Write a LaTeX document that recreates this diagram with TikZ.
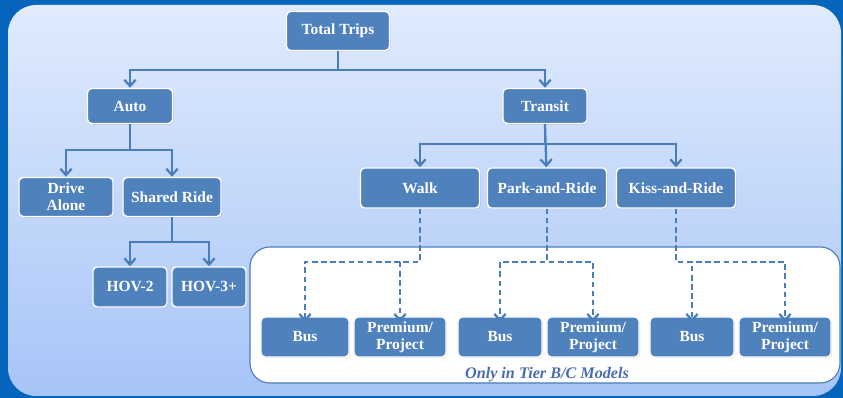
\documentclass[tikz,border=0pt]{standalone}
\usepackage{fontspec}
\setmainfont{Liberation Serif}
\usepackage{xcolor}
\usetikzlibrary{arrows.meta, shadows}

\definecolor{frameblue}{HTML}{0565BD}
\definecolor{paneltop}{HTML}{E0EBFD}
\definecolor{panelbot}{HTML}{A7C4F7}
\definecolor{boxblue}{HTML}{4F81BD}
\definecolor{lineblue}{HTML}{4A7EBB}
\definecolor{notecol}{HTML}{4A6DB0}

\tikzset{
  box/.style={draw=white, line width=1pt, fill=boxblue, rounded corners=3pt,
    text=white, font=\fontsize{11}{12}\selectfont\bfseries, align=center,
    inner sep=1pt,
    drop shadow={shadow xshift=0.8pt, shadow yshift=-0.8pt, opacity=0.25}},
  arr/.style={draw=lineblue, line width=1.6pt,
    -{Straight Barb[length=4.5pt,width=8pt]}},
  darr/.style={arr, dash pattern=on 4pt off 2.5pt},
}

\begin{document}
\begin{tikzpicture}[x=0.025cm, y=-0.025cm]
    \useasboundingbox (0,0) rectangle (843,398);
    \fill[frameblue] (0,0) rectangle (843,398);
    \shade[top color=paneltop, bottom color=panelbot, rounded corners=20]
      (8,5) rectangle (841,396);

    % white area of the optional modes
    \draw[lineblue, line width=0.8pt, fill=white, rounded corners=14]
      (250,247) rectangle (840,383);
    \node[notecol, font=\fontsize{11.5}{12}\selectfont\bfseries\itshape] (tier)
      at (547,375) {Only in Tier B/C Models};

    % upper levels
    \node[box, minimum width=2.575cm, minimum height=0.975cm] (total) at (338,31) {Total Trips};
    \node[box, minimum width=2.125cm, minimum height=0.875cm] (auto) at (130,106) {Auto};
    \node[box, minimum width=2.1cm, minimum height=0.875cm] (transit) at (545,106) {Transit};

    \node[box, minimum width=2.35cm, minimum height=0.975cm] (alone) at (66,197) {Drive\\Alone};
    \node[box, minimum width=2.45cm, minimum height=0.975cm] (shared) at (172,197) {Shared Ride};

    \node[box, minimum width=1.85cm, minimum height=1cm] (hov2) at (130,287) {HOV-2};
    \node[box, minimum width=1.85cm, minimum height=1cm] (hov3) at (209,287) {HOV-3+};

    \node[box, minimum width=2.975cm, minimum height=1cm] (walk) at (420,188) {Walk};
    \node[box, minimum width=2.975cm, minimum height=1cm] (park) at (547,188) {Park-and-Ride};
    \node[box, minimum width=2.975cm, minimum height=1cm] (kiss) at (676,188) {Kiss-and-Ride};

    % transit sub modes
    \node[box, minimum width=2.2cm, minimum height=1cm] (bus1) at (305,337) {Bus};
    \node[box, minimum width=2.3cm, minimum height=1cm] (prem1) at (400,337) {Premium/\\Project};
    \node[box, minimum width=2.1cm, minimum height=1cm] (bus2) at (500,337) {Bus};
    \node[box, minimum width=2.3cm, minimum height=1cm] (prem2) at (593,337) {Premium/\\Project};
    \node[box, minimum width=2.1cm, minimum height=1cm] (bus3) at (692,337) {Bus};
    \node[box, minimum width=2.3cm, minimum height=1cm] (prem3) at (785,337) {Premium/\\Project};

    % solid connectors
    \draw[arr] (total.south) -- ++(0,19) -| (auto);
    \draw[arr] (total.south) -- ++(0,19) -| (transit);

    \draw[arr] (auto.south) -- ++(0,26) -| (alone);
    \draw[arr] (auto.south) -- ++(0,26) -| (shared);

    \draw[arr] (transit.south) -- ++(0,20) -| (walk);
    \draw[arr] (transit.south) -- (park);
    \draw[arr] (transit.south) -- ++(0,20) -| (kiss);

    \draw[arr] (shared.south) -- ++(0,25) -| (hov2);
    \draw[arr] (shared.south) -- ++(0,25) -| (hov3);

    % dashed connectors
    \draw[darr] (walk.south) -- ++(0,53) -| ([yshift=-4pt]bus1.north);
    \draw[darr] (walk.south) -- ++(0,53) -| ([yshift=-4pt]prem1.north);
    \draw[darr] (park.south) -- ++(0,53) -| ([yshift=-4pt]bus2.north);
    \draw[darr] (park.south) -- ++(0,53) -| ([yshift=-4pt]prem2.north);
    \draw[darr] (kiss.south) -- ++(0,53) -| ([yshift=-4pt]bus3.north);
    \draw[darr] (kiss.south) -- ++(0,53) -| ([yshift=-4pt]prem3.north);
\end{tikzpicture}
\end{document}
